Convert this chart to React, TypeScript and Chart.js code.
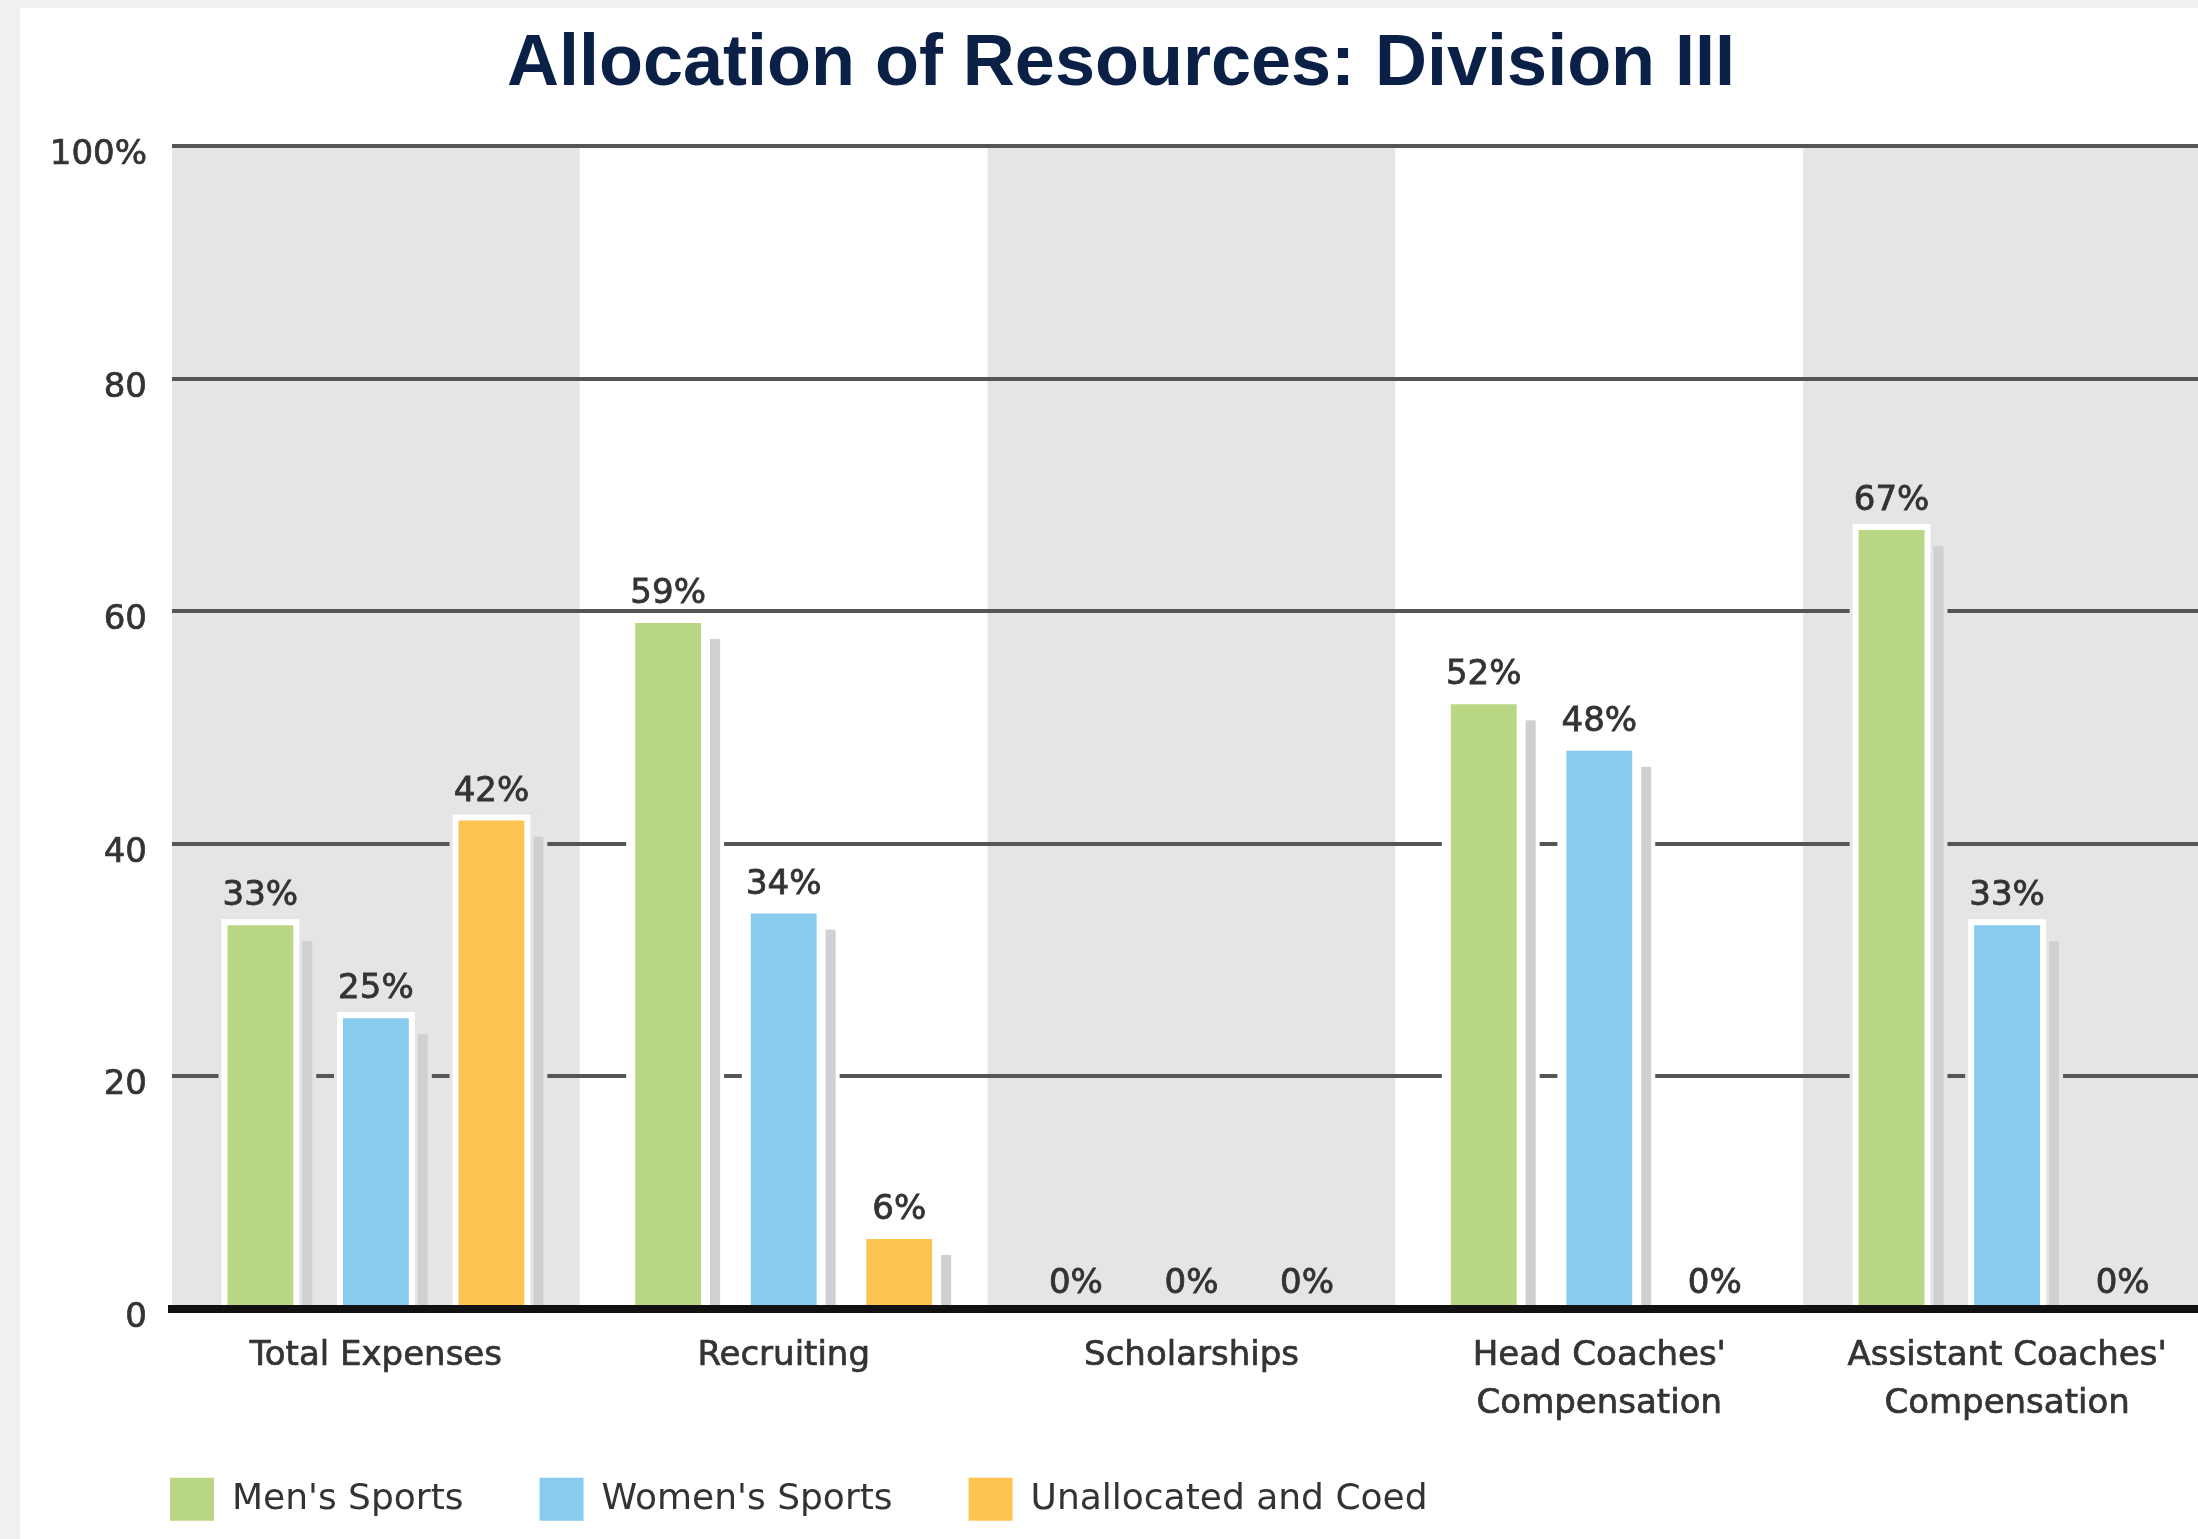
import React, { useEffect, useRef } from 'react';
import { Chart, registerables } from 'chart.js';

Chart.register(...registerables);

const TITLE = 'Allocation of Resources: Division III';
const categories: (string | string[])[] = [
  'Total Expenses',
  'Recruiting',
  'Scholarships',
  ["Head Coaches'", 'Compensation'],
  ["Assistant Coaches'", 'Compensation'],
];
const seriesNames = ["Men's Sports", "Women's Sports", 'Unallocated and Coed'];
const mensSports = [33, 59, 0, 52, 67];
const womensSports = [25, 34, 0, 48, 33];
const unallocatedCoed = [42, 6, 0, 0, 0];
const seriesColors = ['#bad785', '#88cbee', '#fec451'];
const yTickValues = [0, 20, 40, 60, 80, 100];
const yTickLabels = ['0', '20', '40', '60', '80', '100%'];

const FONT = '"DejaVu Sans", sans-serif';
const BAND_GRAY = '#e5e5e5';
const TEXT = '#333333';

const bandPlugin = {
  id: 'bands',
  beforeDraw(chart: any) {
    const { ctx, chartArea, scales } = chart;
    const x = scales.x;
    const n = chart.data.labels.length;
    const w = (chartArea.right - chartArea.left) / n;
    ctx.save();
    for (let i = 0; i < n; i++) {
      const c = x.getPixelForValue(i);
      ctx.fillStyle = i % 2 === 0 ? BAND_GRAY : '#ffffff';
      ctx.fillRect(c - w / 2, chartArea.top, w, chartArea.bottom - chartArea.top);
    }
    ctx.restore();
  },
};

const shadowPlugin = {
  id: 'barShadows',
  beforeDatasetsDraw(chart: any) {
    const { ctx } = chart;
    const items: any[] = [];
    chart.data.datasets.forEach((ds: any, di: number) => {
      const meta = chart.getDatasetMeta(di);
      meta.data.forEach((bar: any, i: number) => {
        const v = ds.data[i];
        if (!v) return;
        const p = bar.getProps(['x', 'y', 'base', 'width'], true);
        items.push({ ...p, i });
      });
    });
    ctx.save();
    items.forEach((b) => {
      const left = b.x - b.width / 2;
      ctx.fillStyle = b.i % 2 === 0 ? BAND_GRAY : '#ffffff';
      ctx.fillRect(left - 9, b.y - 7, b.width + 9 + 23, b.base - (b.y - 7));
    });
    items.forEach((b) => {
      const right = b.x + b.width / 2;
      ctx.fillStyle = '#cfd0d2';
      ctx.fillRect(right + 9, b.y + 16, 10, b.base - (b.y + 16));
    });
    items.forEach((b) => {
      const left = b.x - b.width / 2;
      ctx.fillStyle = '#ffffff';
      ctx.fillRect(left - 6, b.y - 6, b.width + 12, b.base - (b.y - 6));
    });
    ctx.restore();
  },
};

const labelPlugin = {
  id: 'valueLabels',
  afterDatasetsDraw(chart: any) {
    const { ctx } = chart;
    ctx.save();
    ctx.font = `34px ${FONT}`;
    ctx.fillStyle = TEXT;
    ctx.strokeStyle = TEXT;
    ctx.lineWidth = 0.8;
    ctx.textAlign = 'center';
    ctx.textBaseline = 'alphabetic';
    chart.data.datasets.forEach((ds: any, di: number) => {
      const meta = chart.getDatasetMeta(di);
      meta.data.forEach((bar: any, i: number) => {
        const v = ds.data[i];
        const p = bar.getProps(['x', 'y'], true);
        const off = v ? 20 : 16;
        ctx.fillText(`${v}%`, p.x, p.y - off);
        ctx.strokeText(`${v}%`, p.x, p.y - off);
      });
    });
    ctx.restore();
  },
};

// place title and legend boxes where the reference has them
const placementPlugin = {
  id: 'placement',
  afterLayout(chart: any) {
    const tb = chart.titleBlock;
    if (tb) {
      const shift = 1101 - (tb.left + tb.right) / 2;
      tb.left += shift;
      tb.right += shift;
    }
    const lg = chart.legend;
    if (lg) {
      const dx = 74 - lg.left;
      const dy = chart.chartArea.bottom + 93 - lg.top;
      lg.left += dx;
      lg.right += dx;
      lg.top += dy;
      lg.bottom += dy;
    }
  },
};

export default function App() {
  const canvasRef = useRef<HTMLCanvasElement | null>(null);

  useEffect(() => {
    const canvas = canvasRef.current;
    if (!canvas) return;
    const seriesData = [mensSports, womensSports, unallocatedCoed];
    const chart = new Chart(canvas, {
      type: 'bar',
      data: {
        labels: categories,
        datasets: seriesNames.map((name, k) => ({
          label: name,
          data: seriesData[k],
          backgroundColor: seriesColors[k],
          borderWidth: 0,
          categoryPercentage: 0.85,
          barPercentage: 0.57,
        })),
      },
      options: {
        responsive: false,
        animation: false,
        devicePixelRatio: 1,
        layout: { padding: { left: 30, right: 69, top: 0, bottom: 0 } },
        plugins: {
          tooltip: { enabled: false },
          title: {
            display: true,
            text: TITLE,
            color: '#0b2046',
            font: { family: '"Liberation Sans", Arial, sans-serif', size: 72, weight: 'bold', lineHeight: 1.2 },
            padding: { top: 14, bottom: 38 },
          },
          legend: {
            position: 'bottom',
            align: 'start',
            labels: {
              boxWidth: 44,
              boxHeight: 43,
              padding: 76,
              color: TEXT,
              font: { family: FONT, size: 36 },
            },
          },
        },
        scales: {
          x: {
            grid: { display: false, drawTicks: false },
            border: { display: true, color: '#111111', width: 8, z: 1 },
            ticks: {
              color: TEXT,
              font: { family: FONT, size: 34, lineHeight: 1.4 },
              padding: 24,
              maxRotation: 0,
              autoSkip: false,
              textStrokeColor: TEXT,
              textStrokeWidth: 0.7,
            },
          },
          y: {
            min: 0,
            max: 100,
            grid: { color: '#555555', lineWidth: 4, drawTicks: false },
            border: { display: false },
            ticks: {
              stepSize: 20,
              color: TEXT,
              font: { family: FONT, size: 34 },
              padding: 25,
              labelOffset: 9,
              textStrokeColor: TEXT,
              textStrokeWidth: 0.7,
              callback: (value: any) => {
                const idx = yTickValues.indexOf(Number(value));
                return idx >= 0 ? yTickLabels[idx] : String(value);
              },
            },
            afterFit: (scale: any) => {
              scale.width = 122;
            },
          },
        },
      },
      plugins: [bandPlugin, shadowPlugin, labelPlugin, placementPlugin],
    } as any);
    return () => chart.destroy();
  }, []);

  return (
    <div style={{ position: 'fixed', left: 0, top: 0, right: 0, bottom: 0, background: '#eff0f2', overflow: 'hidden' }}>
      <div style={{ position: 'absolute', left: 20, top: 8, right: 0, bottom: 0, background: '#ffffff', overflow: 'hidden' }}>
        <canvas ref={canvasRef} width={2260} height={1573} style={{ display: 'block', width: 2260, height: 1573 }} />
      </div>
    </div>
  );
}
